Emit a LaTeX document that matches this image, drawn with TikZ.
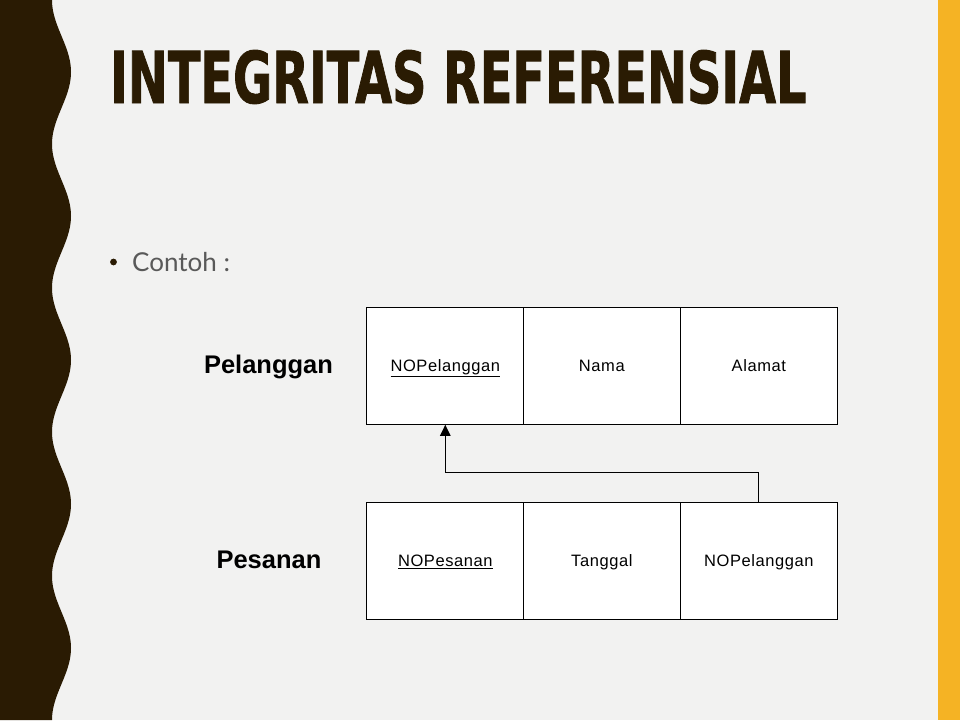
\documentclass[tikz,border=0pt]{standalone}
\usepackage{fontspec}
\setmainfont{Liberation Sans}
\newfontfamily\titlefont[FakeBold=1.3]{DejaVu Sans Condensed Bold}
\newfontfamily\bodyfont{Lato}
\newfontfamily\cellfont[LetterSpace=3.5]{Liberation Sans}
\usetikzlibrary{arrows.meta}
\definecolor{bgc}{HTML}{F2F2F1}
\definecolor{darkc}{HTML}{2A1B03}
\definecolor{yelc}{HTML}{F5B324}
\definecolor{greyc}{HTML}{595959}
\tikzset{
  cell/.style={draw=black, line width=1pt, fill=white, minimum width=157pt, minimum height=117pt,
    inner sep=0pt, font=\cellfont\fontsize{16.5}{18}\selectfont, text height=12pt, text depth=0pt},
  tablabel/.style={inner sep=0pt, font=\fontsize{25.5}{28}\selectfont\bfseries, text height=18pt, text depth=0pt},
  fk/.style={line width=1pt, -{Triangle[length=11pt,width=10.5pt]}}
}
\begin{document}
\begin{tikzpicture}[x=1pt,y=-1pt]
\useasboundingbox (0,0) rectangle (960,720);
\fill[bgc] (0,0) rectangle (960,720);
\fill[yelc] (938,0) rectangle (960,720);
\fill[darkc] (0,0) -- plot[domain=0:720, samples=241, variable=\t] ({61.5-9.5*cos(2.5*\t)}, {\t}) -- (0,720) -- cycle;
% title
\node[anchor=base west, inner sep=0pt, text=darkc] (title) at (110,103)
  {\resizebox{696pt}{53pt}{\titlefont INTEGRITAS REFERENSIAL}};
% bullet
\fill[darkc] (113.5,262) circle (3.4);
\node[anchor=base west, inner sep=0pt, text=greyc, font=\bodyfont\fontsize{26}{28}\selectfont] (contoh) at (132,271) {Contoh :};
% table Pelanggan
\node[cell] (p1) at (445.3,365.8) {\underline{NOPelanggan}};
\node[cell] (p2) at (601.8,365.8) {Nama};
\node[cell] (p3) at (758.8,365.8) {Alamat};
% table Pesanan
\node[cell] (q1) at (445.3,560.8) {\underline{NOPesanan}};
\node[cell] (q2) at (601.8,560.8) {Tanggal};
\node[cell] (q3) at (758.8,560.8) {NOPelanggan};
% labels
\node[tablabel] (lp) at (268.5,364) {Pelanggan};
\node[tablabel] (lq) at (269,559) {Pesanan};
% foreign key connector
\draw[fk] (q3.north) -- ++(0,-29.5) -| (p1.south);
\end{tikzpicture}
\end{document}
